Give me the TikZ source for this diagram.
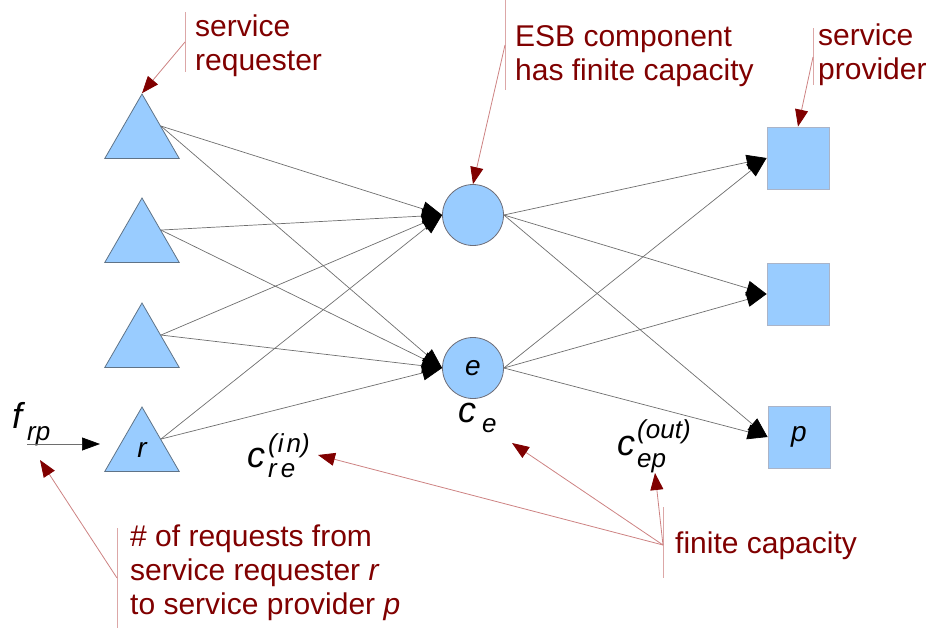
\documentclass[tikz,border=0pt]{standalone}
\usepackage{fontspec}
\setmainfont{Liberation Sans}
\usetikzlibrary{shapes.geometric,arrows.meta}

\definecolor{shapeblue}{RGB}{153,204,255}
\definecolor{triline}{RGB}{95,115,135}
\definecolor{circline}{RGB}{110,110,120}
\definecolor{boxline}{RGB}{170,180,200}
\definecolor{edgegray}{RGB}{110,110,110}
\definecolor{notered}{RGB}{128,0,0}
\definecolor{notepink}{RGB}{205,130,130}

\newcommand{\bigvar}[1]{{\fontsize{36}{36}\selectfont\itshape #1}}
\newcommand{\smallvar}[1]{{\fontsize{26}{26}\selectfont\itshape #1}}

\tikzset{
  reqtri/.style={regular polygon, regular polygon sides=3, minimum size=86pt,
    inner sep=0pt, fill=shapeblue, draw=triline, line width=0.8pt,
    font=\fontsize{28}{28}\selectfont\itshape},
  esbcirc/.style={circle, minimum size=61pt, inner sep=0pt, fill=shapeblue,
    draw=circline, line width=0.8pt, font=\fontsize{28}{28}\selectfont\itshape},
  provbox/.style={rectangle, minimum size=62pt, inner sep=0pt, fill=shapeblue,
    draw=boxline, line width=0.8pt, font=\fontsize{28}{28}\selectfont\itshape},
  flow/.style={draw=edgegray, line width=0.7pt,
    -{Triangle[length=20pt,width=15pt,black]}},
  notebar/.style={draw=notepink!70!white, line width=0.8pt},
  noteline/.style={draw=notepink, line width=0.8pt,
    -{Triangle[length=17pt,width=13pt,notered]}},
  notetext/.style={text=notered, align=left, inner sep=0pt, anchor=base west,
    font=\fontsize{30}{34}\selectfont},
  mathlbl/.style={inner sep=0pt, anchor=base west}
}

\begin{document}
\begin{tikzpicture}[x=1pt,y=-1pt]
\useasboundingbox (0,0) rectangle (930,632);

% requesters, ESB components, providers
\node[reqtri] (t1) at (142,137) {};
\node[reqtri] (t2) at (142,241) {};
\node[reqtri] (t3) at (142,346) {};
\node[reqtri] (t4) at (142,450) {r};

\node[esbcirc] (c1) at (473,215) {};
\node[esbcirc] (c2) at (473,368) {e};

\node[provbox] (s1) at (798,158) {};
\node[provbox] (s2) at (798,294) {};
\node[provbox] (s3) at (799,437) {p};

% flows
\foreach \t in {t1,t2,t3,t4}
  \foreach \c in {c1,c2}
    \draw[flow] (\t.side 3) -- (\c.west);
\foreach \c in {c1,c2}
  \foreach \s in {s1,s2,s3}
    \draw[flow] (\c.east) -- (\s.west);

% capacities
\node[mathlbl] (frp) at (12,428) {\bigvar{f}\kern5pt\raisebox{-12pt}{\smallvar{rp}}};
\node[mathlbl] (cre) at (247,467) {\bigvar{c}\kern3pt\smallvar{\rlap{\raisebox{-10pt}{r\kern4pt e}}\raisebox{15pt}{(\kern1pt i\kern3pt n)}}};
\node[mathlbl] (ce) at (458,422) {\bigvar{c}\kern6pt\raisebox{-10pt}{\smallvar{e}}};
\node[mathlbl] (cep) at (617,455) {\bigvar{c}\kern2pt\smallvar{\rlap{\raisebox{-12pt}{ep}}\raisebox{17pt}{(out)}}};

\coordinate (fin) at (27,444);
\coordinate (fout) at (100,444);
\draw[draw=edgegray, line width=0.7pt, -{Triangle[length=18pt,width=13pt,black]}] (fin) -- (fout);

% notes
\draw[notebar] (185,12) -- (185,72);
\draw[noteline] (185,42) -- (t1.corner 1);
\node[notetext] (nreq) at (195,70) {service\\requester};

\draw[notebar] (505,0) -- (505,90);
\draw[noteline] (505,45) -- (c1.north);
\node[notetext] (nesb) at (515,80) {ESB component\\has finite capacity};

\draw[notebar] (813,28) -- (813,85);
\draw[noteline] (813,57) -- (s1.north);
\node[notetext] (nprov) at (818,79) {service\\provider};

\coordinate (fhit) at (40,460);
\draw[notebar] (117,528) -- (117,628);
\draw[noteline] (117,578) -- (fhit);
\node[notetext] (nflow) at (130,614) {\# of requests from\\service requester \textit{r}\\to service provider \textit{p}};

\coordinate (crehit) at (318,455);
\coordinate (cehit) at (512,443);
\coordinate (cephit) at (655,473);
\draw[notebar] (663,507) -- (663,578);
\draw[noteline] (663,545) -- (crehit);
\draw[noteline] (663,545) -- (cehit);
\draw[noteline] (663,545) -- (cephit);
\node[notetext] (ncap) at (675,553) {finite capacity};

\end{tikzpicture}
\end{document}
